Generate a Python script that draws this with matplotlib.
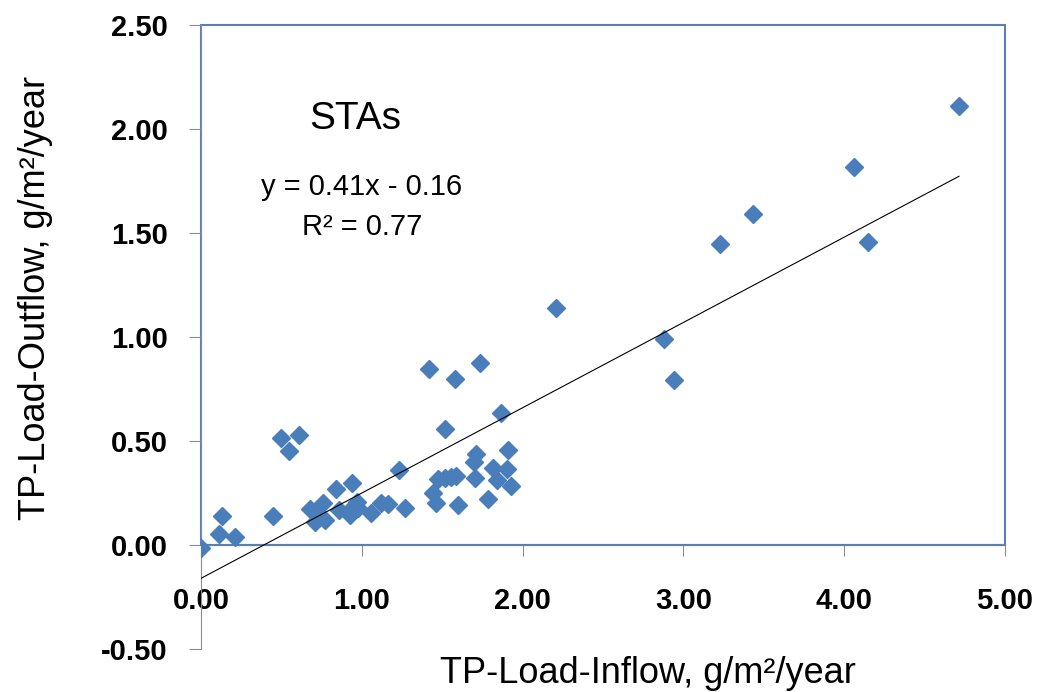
import matplotlib.pyplot as plt
from matplotlib.patches import Rectangle

# TP load inflow vs outflow, g/m2/year (STAs)
inflow = [0.00, 0.11, 0.13, 0.21, 0.45, 0.50, 0.55, 0.61,
          0.68, 0.71, 0.72, 0.76, 0.77, 0.84, 0.86, 0.915, 0.925, 0.94,
          0.967, 0.977, 1.06, 1.12, 1.163, 1.232, 1.267,
          1.418, 1.443, 1.464, 1.474, 1.516, 1.52, 1.557, 1.58, 1.588,
          1.598, 1.696, 1.702, 1.712, 1.733, 1.785, 1.816, 1.841, 1.868,
          1.903, 1.909, 1.93,
          2.205, 2.882, 2.944, 3.228, 3.43, 4.058, 4.147, 4.714]
outflow = [-0.016, 0.053, 0.14, 0.037, 0.14, 0.513, 0.45, 0.53,
           0.175, 0.112, 0.144, 0.20, 0.12, 0.268, 0.168, 0.16, 0.144, 0.30,
           0.208, 0.176, 0.155, 0.20, 0.196, 0.36, 0.178,
           0.845, 0.252, 0.20, 0.316, 0.32, 0.556, 0.325, 0.797, 0.332,
           0.192, 0.40, 0.32, 0.4375, 0.876, 0.22, 0.369, 0.3125, 0.635,
           0.364, 0.457, 0.284,
           1.141, 0.989, 0.793, 1.446, 1.591, 1.819, 1.455, 2.111]

slope, intercept, r2 = 0.41, -0.16, 0.77
xticks = [0, 1, 2, 3, 4, 5]
yticks = [-0.5, 0, 0.5, 1.0, 1.5, 2.0, 2.5]

plt.rcParams['font.family'] = ['Liberation Sans', 'DejaVu Sans']

fig = plt.figure(figsize=(10.39, 6.92), dpi=100)
ax = fig.add_axes([0.1935, 0.0621, 0.7738, 0.9018])
ax.set_xlim(0, 5)
ax.set_ylim(-0.5, 2.5)

blue_edge = '#5b7fb5'
grey = '#8c8c8c'

for s in ['top', 'right']:
    ax.spines[s].set_visible(False)
ax.spines['left'].set_color(grey)
ax.spines['bottom'].set_position(('data', 0))
ax.spines['bottom'].set_color(blue_edge)
ax.spines['bottom'].set_linewidth(1.5)

# plot area border (Excel style, above y=0)
ax.add_patch(Rectangle((0, 0), 5, 2.5, fill=False, edgecolor=blue_edge,
                       linewidth=1.5, zorder=1, clip_on=False))

ax.set_xticks(xticks)
ax.set_xticklabels([f'{v:.2f}' for v in xticks], fontsize=21, fontweight='bold')
ax.set_yticks(yticks)
ax.set_yticklabels([f'{v:.2f}' for v in yticks], fontsize=21, fontweight='bold')
ax.tick_params(axis='y', direction='out', length=9, color=grey, pad=15)
ax.tick_params(axis='x', direction='out', length=8, color=grey, pad=22)

ax.plot(inflow, outflow, linestyle='none', marker='D', markersize=9,
        color='#4a7ebb', zorder=3)

xfit = [0, max(inflow)]
ax.plot(xfit, [slope * v + intercept for v in xfit], color='black',
        linewidth=0.8, zorder=4)

ax.text(0.96, 2.05, 'STAs', fontsize=28, ha='center', va='center')
ax.text(1.0, 1.72, f'y = {slope:.2f}x - {abs(intercept):.2f}', fontsize=21,
        ha='center', va='center')
ax.text(1.0, 1.53, f'R² = {r2:.2f}', fontsize=21, ha='center', va='center')

fig.text(0.624, 0.027, 'TP-Load-Inflow, g/m²/year', fontsize=26,
         ha='center', va='center')
fig.text(0.034, 0.57, 'TP-Load-Outflow, g/m²/year', fontsize=26,
         ha='center', va='center', rotation=90)

fig.savefig('out.png', dpi=100)
